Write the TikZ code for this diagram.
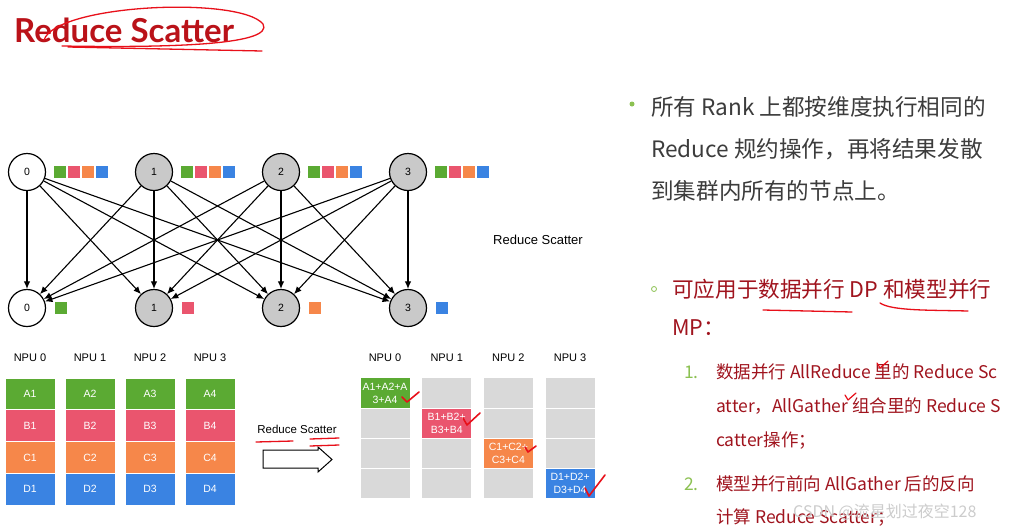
\documentclass[tikz,border=0pt]{standalone}
\usepackage{fontspec}
\setmainfont{Liberation Sans}
\newfontfamily\cjk{Noto Sans CJK SC}
\newfontfamily\titlefont{Lato}
\usetikzlibrary{positioning,arrows.meta}
\definecolor{greenC}{HTML}{5BAA33}
\definecolor{pinkC}{HTML}{EA556E}
\definecolor{orangeC}{HTML}{F6874A}
\definecolor{blueC}{HTML}{3A83E2}
\definecolor{rankC}{HTML}{C9C9C9}
\definecolor{cellC}{HTML}{D9D9D9}
\definecolor{titleC}{HTML}{BA1219}
\definecolor{textC}{HTML}{3C3C3C}
\definecolor{redC}{HTML}{A0141E}
\definecolor{bulletC}{HTML}{8CC152}
\definecolor{inkC}{HTML}{E8101A}
\tikzset{
  rank/.style={circle, draw, line width=1.2pt, minimum size=37pt, inner sep=0pt,
               font=\fontsize{10.5}{12}\selectfont},
  chunk/.style={minimum size=12pt, inner sep=0pt},
  flow/.style={-{Latex[length=7.5pt,width=6.5pt]}, line width=1.1pt},
  cell/.style={draw=white, line width=1pt, minimum width=50pt, inner sep=0pt,
               text=white, align=center, font=\fontsize{10.5}{13}\selectfont},
  npu/.style={font=\fontsize{11}{13}\selectfont},
  tick/.style={draw=inkC, line width=1.6pt, line cap=round, line join=round},
  ink/.style={draw=inkC, line width=1.3pt, line cap=round},
  body/.style={anchor=base west, inner sep=0pt, text=textC, font=\cjk\fontsize{22.6}{26}\selectfont},
  redbody/.style={body, text=redC, font=\cjk\fontsize{21.6}{26}\selectfont},
  small/.style={body, text=redC, font=\cjk\fontsize{17.5}{21}\selectfont},
  numlbl/.style={small, text=bulletC},
}

\begin{document}
\begin{tikzpicture}[x=1pt,y=-1pt]
\useasboundingbox[fill=white] (0,0) rectangle (1023,528);

% title with red marks
\node[anchor=base west, inner sep=0pt, text=titleC, font=\titlefont\bfseries\fontsize{33}{36}\selectfont] (title) at (14,42) {Reduce Scatter};
\draw[ink] (44,40) .. controls (56,4) and (240,-4) .. (263,24) .. controls (274,44) and (180,48) .. (62,46);
\draw[ink] (68,47) -- (262,51);

% ranks before / after
\foreach \i/\x/\f in {0/27/white,1/154/rankC,2/281/rankC,3/408/rankC} {
  \node[rank, fill=\f] (t\i) at (\x,172) {\i};
  \node[rank, fill=\f] (b\i) at (\x,308) {\i};
  \node[chunk, fill=greenC, right=8pt of t\i] (t\i a) {};
  \node[chunk, fill=pinkC, right=1.5pt of t\i a] (t\i b) {};
  \node[chunk, fill=orangeC, right=1.5pt of t\i b] (t\i c) {};
  \node[chunk, fill=blueC, right=1.5pt of t\i c] (t\i d) {};
}
\node[chunk, fill=greenC, right=9pt of b0] (b0a) {};
\node[chunk, fill=pinkC, right=9pt of b1] (b1a) {};
\node[chunk, fill=orangeC, right=9pt of b2] (b2a) {};
\node[chunk, fill=blueC, right=9pt of b3] (b3a) {};
\foreach \i in {0,...,3}
  \foreach \j in {0,...,3}
    \draw[flow] (t\i) -- (b\j);
\node[font=\fontsize{13}{15}\selectfont] (rslbl) at (538,240) {Reduce Scatter};

% NPU blocks before
\foreach \c in {0,...,3} {
  \pgfmathtruncatemacro\n{\c+1}
  \node[npu] (la\c) at (30+60*\c,358) {NPU \c};
  \foreach \r/\l/\f in {0/A/greenC,1/B/pinkC,2/C/orangeC,3/D/blueC}
    \node[cell, fill=\f, minimum height=31.75pt] (l\c\r) at (30+60*\c,393.9+31.75*\r) {\l\n};
}

% reduce scatter arrow
\node[font=\fontsize{11.5}{14}\selectfont] (rsarrow) at (297,429) {Reduce Scatter};
\draw[line width=1pt] (263,450) -- (318,450) -- (318,447) -- (332,459.5) -- (318,472) -- (318,468) -- (263,468) -- cycle;
\draw[ink] (256,442) -- (293,441);
\draw[ink] (310,439) -- (339,438);
\draw[ink] (310,446) -- (339,445);

% NPU blocks after
\foreach \c in {0,...,3} {
  \node[npu] (ra\c) at (385+61.7*\c,358) {NPU \c};
  \foreach \r in {0,...,3}
    \node[cell, fill=cellC, minimum height=30.25pt] (r\c\r) at (385+61.7*\c,393.1+30.25*\r) {};
}
\node[cell, fill=greenC, minimum height=30.25pt] (s0) at (r00) {A1+A2+A\\3+A4};
\node[cell, fill=pinkC, minimum height=30.25pt] (s1) at (r11) {B1+B2+\\B3+B4};
\node[cell, fill=orangeC, minimum height=30.25pt] (s2) at (r22) {C1+C2+\\C3+C4};
\node[cell, fill=blueC, minimum height=30.25pt] (s3) at (r33) {D1+D2+\\D3+D4};
\draw[tick] (402,397) -- (407,402) -- (419,392);
\draw[tick] (463,418) -- (467,425) -- (480,413);
\draw[tick] (525,447) -- (528,452) -- (536,446);
\draw[tick] (585,488) -- (589,496) -- (605,475);

% text on the right
\node[circle, fill=bulletC, minimum size=5pt, inner sep=0pt] (dot1) at (632,104) {};
\node[body] (p1) at (651,115) {所有 Rank 上都按维度执行相同的};
\node[body] (p2) at (651,157) {Reduce 规约操作，再将结果发散};
\node[body] (p3) at (651,199) {到集群内所有的节点上。};

\node[circle, draw=bulletC, line width=0.8pt, minimum size=5pt, inner sep=0pt] (dot2) at (654,289) {};
\node[redbody] (q1) at (672,297) {可应用于数据并行 DP 和模型并行};
\node[redbody] (q2) at (672,335) {MP：};
\draw[ink] (763,310) -- (852,312);
\draw[ink] (880,303) .. controls (892,311) and (930,310) .. (968,311);

\node[numlbl] (n1) at (684,378) {1.};
\node[small] (u1) at (716,378) {数据并行 AllReduce 里的 Reduce Sc};
\node[small] (u2) at (716,412) {atter，AllGather 组合里的 Reduce S};
\node[small] (u3) at (716,446) {catter操作；};
\draw[tick, line width=1.2pt] (877,363) -- (880,368) -- (888,361);
\draw[tick, line width=1.2pt] (845,395) -- (848,400) -- (856,393);

\node[numlbl] (n2) at (684,490) {2.};
\node[small] (v1) at (716,490) {模型并行前向 AllGather 后的反向};
\node[small] (v2) at (716,523) {计算 Reduce Scatter；};

\node[anchor=base west, inner sep=0pt, text=gray!40, font=\cjk\fontsize{16}{18}\selectfont] (wm) at (793,517) {CSDN @流星划过夜空128};
\end{tikzpicture}
\end{document}
